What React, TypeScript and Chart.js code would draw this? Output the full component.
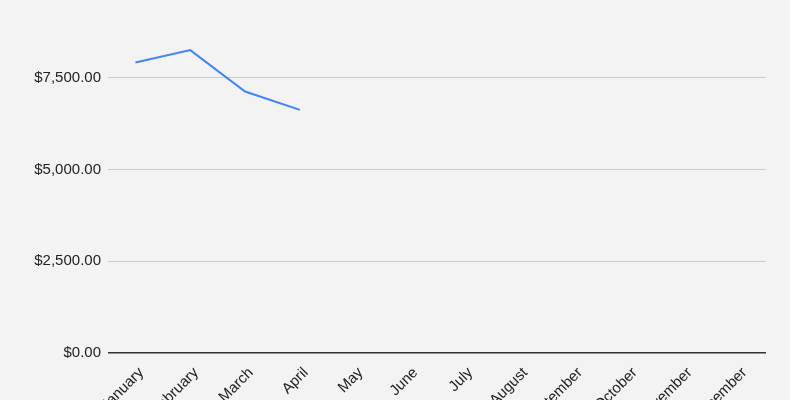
import React, { useEffect, useRef } from "react";
import { Chart, registerables } from "chart.js";

Chart.register(...registerables);

const months = [
  "January", "February", "March", "April", "May", "June",
  "July", "August", "September", "October", "November", "December",
];
const sales: (number | null)[] = [7920, 8260, 7130, 6630, null, null, null, null, null, null, null, null];
const yTicks = [0, 2500, 5000, 7500];
const yMax = 9000;

const bgPlugin = {
  id: "bg",
  beforeDraw(chart: any) {
    const { ctx, width, height } = chart;
    ctx.save();
    ctx.fillStyle = "#f3f3f3";
    ctx.fillRect(0, 0, width, height);
    ctx.restore();
  },
};

export default function App() {
  const ref = useRef<HTMLCanvasElement | null>(null);
  useEffect(() => {
    document.body.style.margin = "0";
    document.body.style.background = "#f3f3f3";
    const fmt = (v: number) =>
      "$" + v.toLocaleString("en-US", { minimumFractionDigits: 2, maximumFractionDigits: 2 });
    const chart = new Chart(ref.current!, {
      type: "line",
      data: {
        labels: months,
        datasets: [
          {
            data: sales,
            borderColor: "#4285f4",
            borderWidth: 2,
            pointRadius: 0,
            tension: 0,
            fill: false,
          },
        ],
      },
      options: {
        animation: false,
        responsive: false,
        maintainAspectRatio: false,
        layout: { padding: { top: 23, right: 24, left: 0, bottom: 0 } },
        plugins: { legend: { display: false }, tooltip: { enabled: false } },
        scales: {
          x: {
            offset: true,
            grid: { display: false },
            border: { display: false },
            ticks: {
              maxRotation: 45,
              minRotation: 45,
              autoSkip: false,
              labelOffset: 6,
              color: "#222222",
              font: { family: "'Liberation Sans', Arial, sans-serif", size: 15 },
              padding: 3,
            },
            afterFit(scale: any) {
              scale.height = 47;
            },
          },
          y: {
            min: 0,
            max: yMax,
            border: { display: false },
            grid: {
              drawTicks: false,
              color: (c: any) => (c.tick && c.tick.value === 0 ? "#333333" : "#cccccc"),
              lineWidth: (c: any) => (c.tick && c.tick.value === 0 ? 1.5 : 1),
            },
            ticks: {
              padding: 7,
              color: "#222222",
              font: { family: "'Liberation Sans', Arial, sans-serif", size: 15 },
              callback: (v: any) => fmt(Number(v)),
            },
            afterBuildTicks(scale: any) {
              scale.ticks = yTicks.map((v) => ({ value: v }));
            },
            afterFit(scale: any) {
              scale.width = 108;
            },
          },
        },
      },
      plugins: [bgPlugin],
    });
    return () => chart.destroy();
  }, []);
  return (
    <div style={{ width: 790, height: 400, overflow: "hidden" }}>
      <canvas ref={ref} width={790} height={400} style={{ display: "block" }} />
    </div>
  );
}
